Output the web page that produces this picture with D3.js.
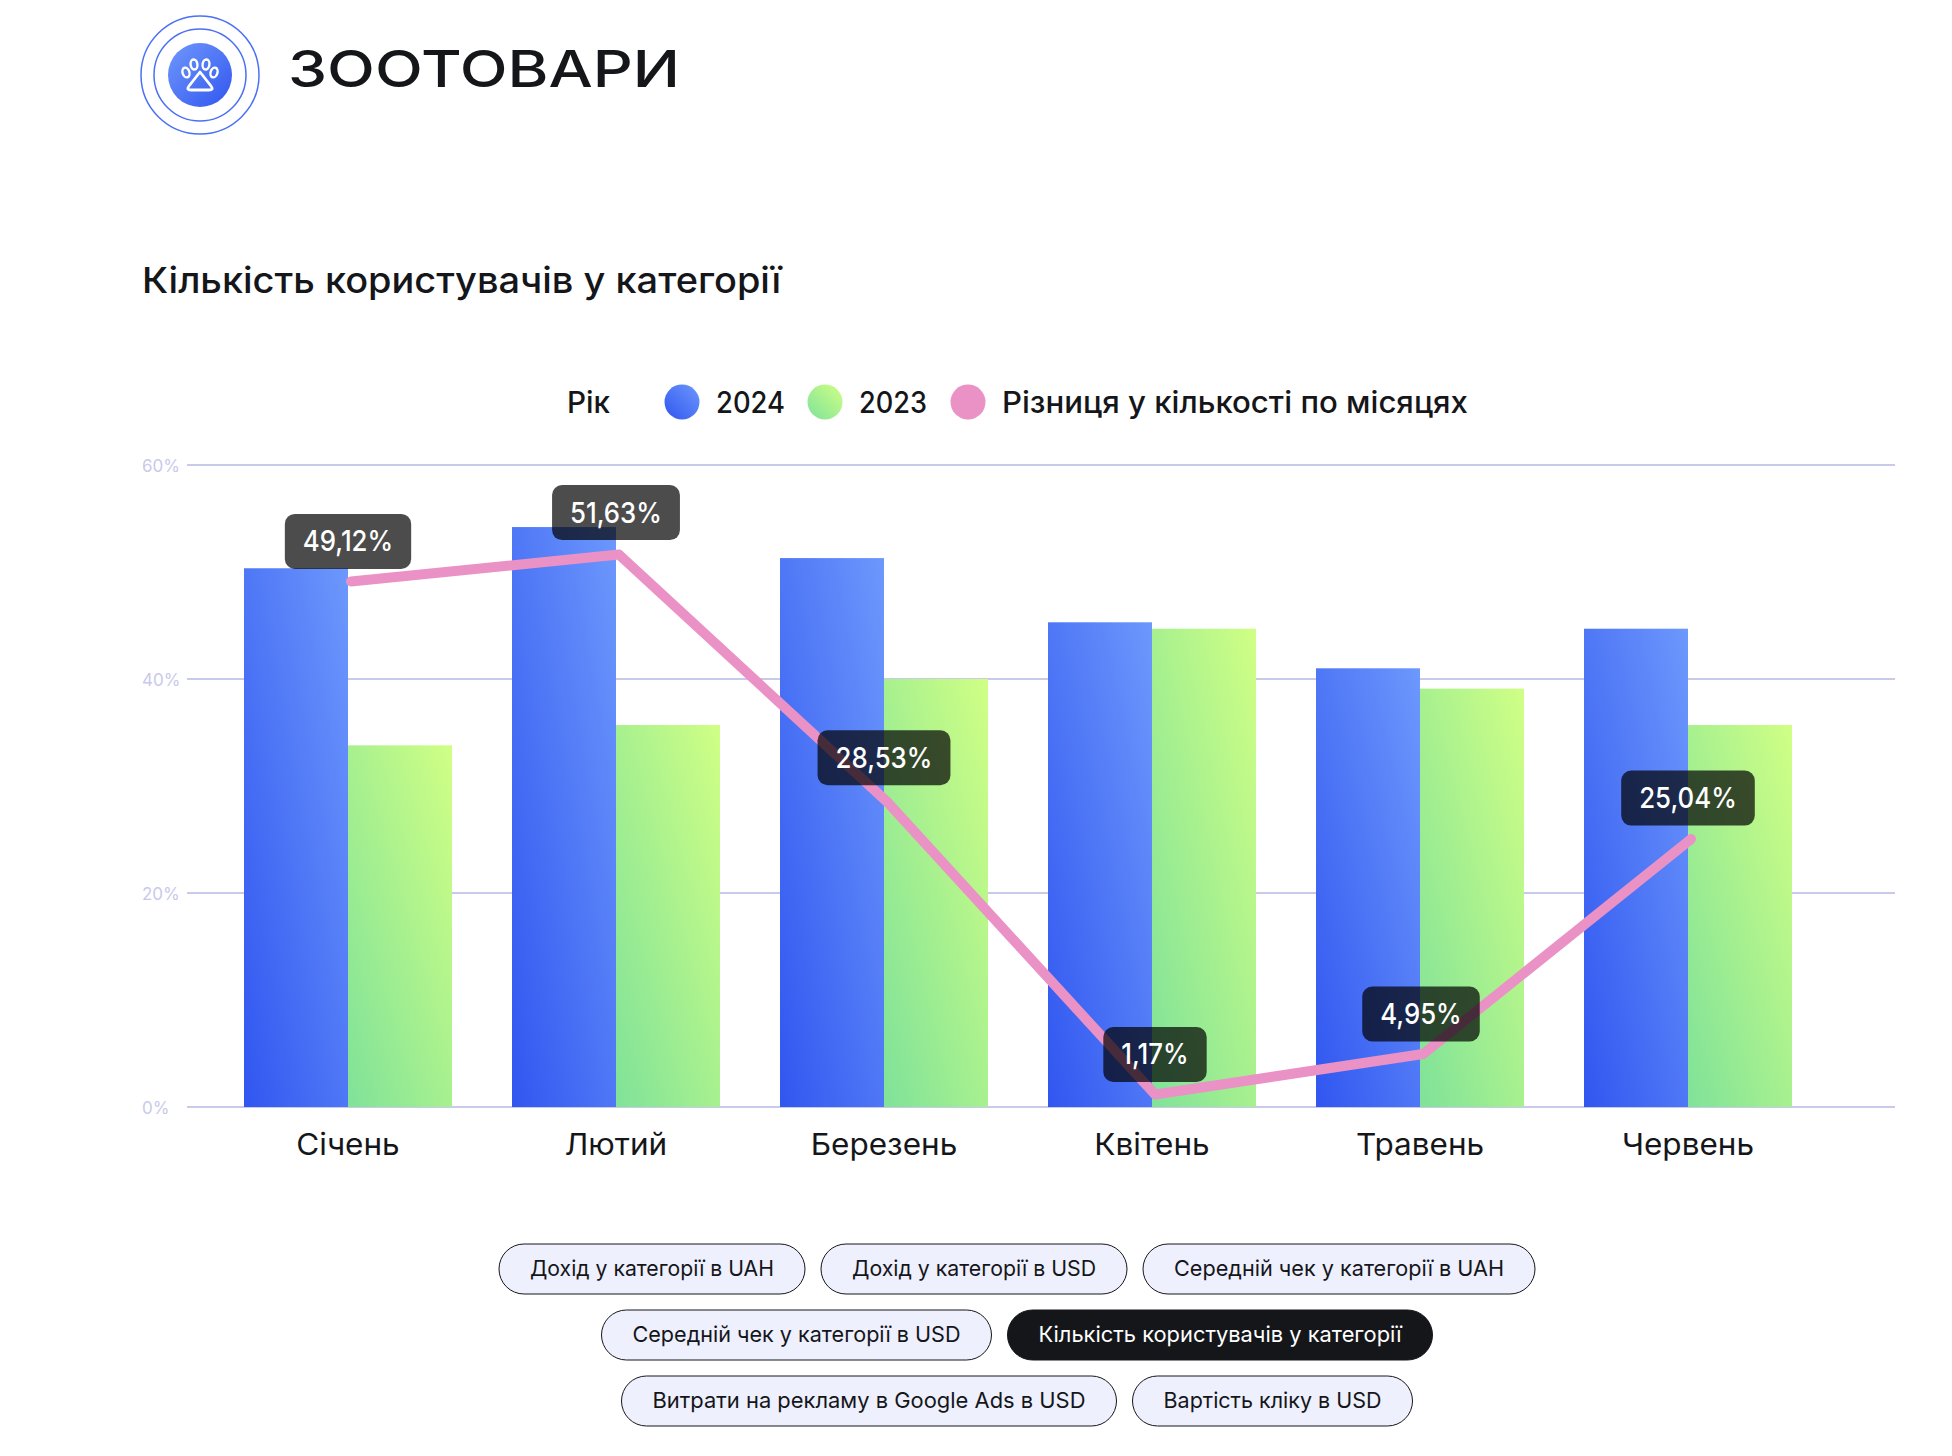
<!DOCTYPE html>
<html>
<head>
    <meta charset="utf-8">
    <title>Зоотовари</title>
    <script src="https://cdnjs.cloudflare.com/ajax/libs/d3/7.8.5/d3.min.js"></script>
    <style>
        body { margin: 0; background: #fff; }
        svg { display: block; font-family: Inter, sans-serif; }
    </style>
</head>
<body>
    <script>
        // Chart data
        var months = ["Січень", "Лютий", "Березень", "Квітень", "Травень", "Червень"];
        var values2024 = [50.35, 54.2, 51.3, 45.3, 41, 44.7];
        var values2023 = [33.8, 35.7, 40, 44.7, 39.1, 35.7];
        var difference = [49.12, 51.63, 28.53, 1.17, 4.95, 25.04];
        var yTicks = [0, 20, 40, 60];
        var legendNames = ["2024", "2023", "Різниця у кількості по місяцях"];
        var buttonRows = [
            ["Дохід у категорії в UAH", "Дохід у категорії в USD", "Середній чек у категорії в UAH"],
            ["Середній чек у категорії в USD", "Кількість користувачів у категорії"],
            ["Витрати на рекламу в Google Ads в USD", "Вартість кліку в USD"]
        ];
        var activeButton = "Кількість користувачів у категорії";

        var width = 1952, height = 1456;
        var ink = "#15161a";

        var svg = d3.select("body").append("svg")
            .attr("width", width)
            .attr("height", height);

        // Squeeze or stretch a text to a given width, the original font is not installed
        function fit(text, w) {
            return text.attr("textLength", w).attr("lengthAdjust", "spacingAndGlyphs");
        }

        // Gradients
        var defs = svg.append("defs");
        function gradient(id, from, to, x1, y1, x2, y2) {
            var g = defs.append("linearGradient").attr("id", id)
                .attr("x1", x1).attr("y1", y1).attr("x2", x2).attr("y2", y2);
            g.append("stop").attr("offset", "0%").attr("stop-color", from);
            g.append("stop").attr("offset", "100%").attr("stop-color", to);
        }
        gradient("blue", "#3056f0", "#6d98fc", 0, 1, 1, 0);
        gradient("green", "#7fe299", "#d0ff85", 0, 1, 1, 0);
        gradient("logoBlue", "#7098fb", "#3056f0", 0, 0, 1, 1);

        // Scales
        var y = d3.scaleLinear().domain([0, 60]).range([1107, 465]);
        var x = d3.scaleBand().domain(months).range([214, 1822]).paddingInner(60 / 268).paddingOuter(60 / 536);
        var bar = d3.scaleBand().domain(["2024", "2023"]).range([0, x.bandwidth()]);

        // Logo
        var logo = svg.append("g").attr("transform", "translate(200,75)");
        logo.append("circle").attr("r", 59).attr("fill", "none").attr("stroke", "#4a70f5").attr("stroke-width", 1.5);
        logo.append("circle").attr("r", 46).attr("fill", "none").attr("stroke", "#4a70f5").attr("stroke-width", 1.5);
        logo.append("circle").attr("r", 32).attr("fill", "url(#logoBlue)");
        [[-14, -2.5, -18], [-6, -10.5, -8], [6, -10.5, 8], [14, -2.5, 18]].forEach(function(t) {
            logo.append("ellipse").attr("rx", 3.4).attr("ry", 5)
                .attr("transform", "translate(" + t[0] + "," + t[1] + ") rotate(" + t[2] + ")")
                .attr("fill", "none").attr("stroke", "#fff").attr("stroke-width", 2.4);
        });
        logo.append("path").attr("d", "M0,-3 L11,11 Q14,15 9,15 L-9,15 Q-14,15 -11,11 Z")
            .attr("fill", "none").attr("stroke", "#fff").attr("stroke-width", 2.8).attr("stroke-linejoin", "round");

        // Headings
        fit(svg.append("text").attr("x", 288).attr("y", 87).attr("font-size", 51).attr("font-weight", 450).attr("fill", ink)
            .text("ЗООТОВАРИ"), 392);
        fit(svg.append("text").attr("x", 142).attr("y", 293).attr("font-size", 36).attr("font-weight", 500).attr("fill", ink)
            .text(activeButton), 639);

        // Legend
        var legendFont = 30;
        fit(svg.append("text").attr("x", 567).attr("y", 413).attr("font-size", legendFont).attr("font-weight", 500).attr("fill", ink)
            .text("Рік"), 43);
        var legendFill = ["url(#blue)", "url(#green)", "#ea92c5"];
        var legendDotX = [682, 825, 968];
        var legendTextX = [716, 859, 1002];
        var legendTextW = [69, 68, 466];
        legendNames.forEach(function(name, i) {
            svg.append("circle").attr("cx", legendDotX[i]).attr("cy", 402).attr("r", 17.5).attr("fill", legendFill[i]);
            fit(svg.append("text").attr("x", legendTextX[i]).attr("y", 413).attr("font-size", legendFont).attr("font-weight", 500).attr("fill", ink)
                .text(name), legendTextW[i]);
        });

        // Grid and y labels
        svg.append("g").selectAll("line").data(yTicks).enter().append("line")
            .attr("x1", 187).attr("x2", 1895)
            .attr("y1", function(d) { return y(d); })
            .attr("y2", function(d) { return y(d); })
            .attr("stroke", "#c9c9ec").attr("stroke-width", 2);
        svg.append("g").selectAll("text").data(yTicks).enter().append("text")
            .attr("x", 142)
            .attr("y", function(d) { return y(d) + 7; })
            .attr("font-size", 17).attr("fill", "#c9c9ec")
            .text(function(d) { return d + "%"; });

        // Bars
        svg.append("g").selectAll("rect").data(values2024).enter().append("rect")
            .attr("x", function(d, i) { return x(months[i]) + bar("2024"); })
            .attr("y", function(d) { return y(d); })
            .attr("width", bar.bandwidth())
            .attr("height", function(d) { return y(0) - y(d); })
            .attr("fill", "url(#blue)");
        svg.append("g").selectAll("rect").data(values2023).enter().append("rect")
            .attr("x", function(d, i) { return x(months[i]) + bar("2023"); })
            .attr("y", function(d) { return y(d); })
            .attr("width", bar.bandwidth())
            .attr("height", function(d) { return y(0) - y(d); })
            .attr("fill", "url(#green)");

        // Month labels
        svg.append("g").selectAll("text").data(months).enter().append("text")
            .attr("x", function(d) { return x(d) + x.bandwidth() / 2; })
            .attr("y", 1155)
            .attr("text-anchor", "middle")
            .attr("font-size", 30).attr("fill", ink)
            .text(function(d) { return d; })
            .each(function() {
                fit(d3.select(this), this.getComputedTextLength() * 1.05);
            });

        // Difference line, it sits a few pixels right of the band centre
        var line = d3.line()
            .x(function(d, i) { return x(months[i]) + x.bandwidth() / 2 + 3; })
            .y(function(d) { return y(d); });
        svg.append("path").datum(difference).attr("d", line)
            .attr("fill", "none").attr("stroke", "#ea92c5").attr("stroke-width", 10)
            .attr("stroke-linejoin", "round").attr("stroke-linecap", "round");

        // Value badges, each one sits a little differently above its point
        var badgeLift = [40, 42, 44, 40, 40, 41];
        var badgeShift = [0, 0, 0, 3, 1, 0];
        difference.forEach(function(d, i) {
            var cx = x(months[i]) + x.bandwidth() / 2 + badgeShift[i];
            var cy = y(d) - badgeLift[i];
            var g = svg.append("g");
            var rect = g.append("rect").attr("fill", "#000").attr("fill-opacity", 0.7).attr("rx", 10);
            var text = g.append("text").attr("x", cx).attr("y", cy + 10)
                .attr("text-anchor", "middle").attr("font-size", 29).attr("font-weight", 500).attr("fill", "#fff")
                .text(d.toFixed(2).replace(".", ",") + "%");
            var tw = text.node().getComputedTextLength() * 0.89;
            fit(text, tw);
            var w = tw + 36;
            rect.attr("x", cx - w / 2).attr("y", cy - 27.5).attr("width", w).attr("height", 55);
        });

        // Buttons
        var buttonTextW = [[244, 244, 330], [328, 363], [433, 218]];
        buttonRows.forEach(function(row, r) {
            var rowG = svg.append("g");
            var cursor = 0;
            row.forEach(function(label, k) {
                var active = label === activeButton;
                var g = rowG.append("g");
                var w = buttonTextW[r][k] + 62;
                g.append("rect").attr("height", 50).attr("rx", 25)
                    .attr("x", cursor).attr("width", w)
                    .attr("y", 1244 + r * 66)
                    .attr("fill", active ? ink : "#eef0fd")
                    .attr("stroke", ink).attr("stroke-width", 1);
                fit(g.append("text").attr("x", cursor + 31).attr("y", 1276 + r * 66)
                    .attr("font-size", 22).attr("fill", active ? "#fff" : ink)
                    .text(label), buttonTextW[r][k]);
                cursor += w + 16;
            });
            rowG.attr("transform", "translate(" + (1017 - (cursor - 16) / 2) + ",0)");
        });
    </script>
</body>
</html>
